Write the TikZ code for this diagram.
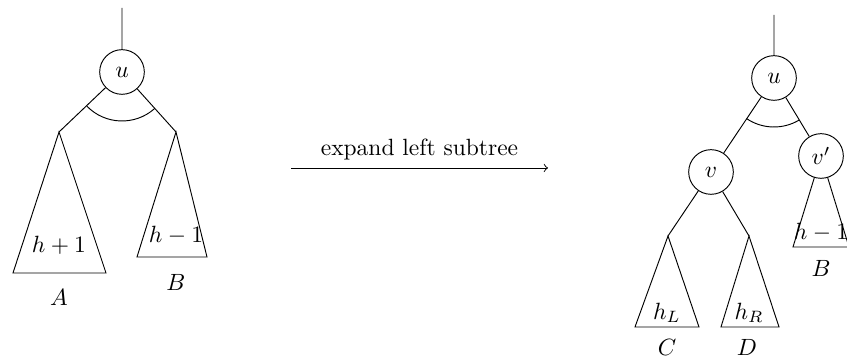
\documentclass[tikz,border=0pt]{standalone}
\usetikzlibrary{calc}
\tikzset{>=to,vert/.style={circle,draw,fill=white,inner sep=0pt,minimum size=19pt}}
\begin{document}
\begin{tikzpicture}[x=0.4255pt,y=0.4255pt]
\useasboundingbox (0,0) rectangle (847,358);
% before
\coordinate (top) at (122,350);
\node[vert] (u) at (122,286) {$u$};
\coordinate (a) at (59,226);
\coordinate (b) at (176,226);
\draw (top) -- (u) (u) -- (a) (u) -- (b);
\draw (a) -- (13,85) -- (106,85) -- cycle;
\draw (b) -- (137,101) -- (207,101) -- cycle;
\draw ($(u)+(224:49)$) arc[start angle=224,end angle=312,radius=49];
\foreach \x/\y/\lab in {59/113/h+1,176/123/h-1,59/61/A,176/76/B}
 {\node at (\x,\y){$\lab$};}
% arrow
\coordinate (arrS) at (291,190);
\coordinate (arrE) at (548,190);
\draw[->] (arrS) -- node[above=0pt]{expand left subtree} (arrE);
% after
\coordinate (top2) at (774,343);
\node[vert] (u2) at (774,280) {$u$};
\draw (821,202) -- (793,111) -- (849,111) -- cycle;
\node[vert] (v) at (711,186) {$v$};
\node[vert] (vp) at (821,202) {$v'$};
\coordinate (c) at (668,122);
\coordinate (d) at (749,122);
\draw (top2) -- (u2) (u2) -- (v) (u2) -- (vp) (v) -- (c) (v) -- (d);
\draw (c) -- (635,31) -- (699,31) -- cycle;
\draw (d) -- (721,31) -- (779,31) -- cycle;
\draw ($(u2)+(236:49)$) arc[start angle=236,end angle=301,radius=49];
\foreach \x/\y/\lab in {667/45/h_L,749/45/h_R,821/126/h-1,667/11/C,747/11/D,821/90/B}
 {\node at (\x,\y){$\lab$};}
\end{tikzpicture}
\end{document}
